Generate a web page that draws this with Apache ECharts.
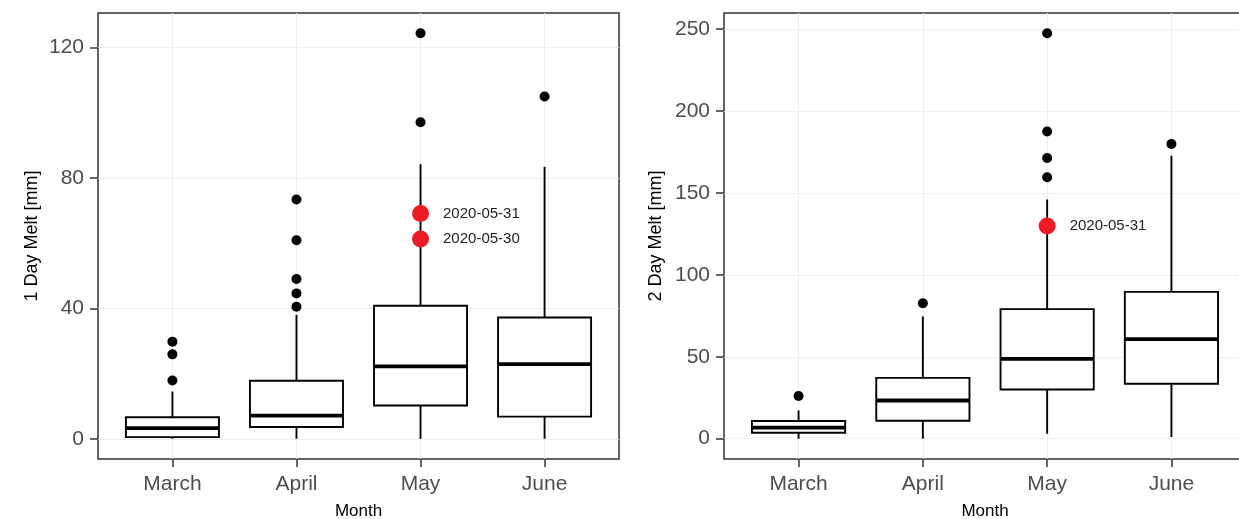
<!DOCTYPE html>
<html>
<head>
<meta charset="utf-8">
<script src="https://cdn.jsdelivr.net/npm/echarts@6/dist/echarts.min.js"></script>
<style>
html,body{margin:0;padding:0;background:#fff;}
#chart{width:1239px;height:519px;}
</style>
</head>
<body>
<div id="chart"></div>
<script>
// ---------- data ----------
const months = ['March', 'April', 'May', 'June'];

// 1 Day Melt [mm] box statistics per month
const melt1Lower  = [0, 0, 0, 0];
const melt1Q1     = [0.5, 3.6, 10.2, 6.8];
const melt1Median = [3.3, 7.1, 22.2, 22.9];
const melt1Q3     = [6.6, 17.8, 40.8, 37.2];
const melt1Upper  = [14.5, 38, 84.2, 83.4];
const melt1Outliers = [[17.9, 25.9, 29.8], [40.5, 44.6, 49, 60.9, 73.4], [97.1, 124.4], [105]];
const melt1HighlightMonth = ['May', 'May'];
const melt1HighlightValue = [69.1, 61.3];
const melt1HighlightDate  = ['2020-05-31', '2020-05-30'];
const melt1Ticks = [0, 40, 80, 120];

// 2 Day Melt [mm] box statistics per month
const melt2Lower  = [0, 0, 3, 1];
const melt2Q1     = [3.65, 10.9, 30, 33.5];
const melt2Median = [6.7, 23.3, 48.7, 60.8];
const melt2Q3     = [10.8, 37.1, 79.1, 89.6];
const melt2Upper  = [17.2, 74.6, 146, 172.7];
const melt2Outliers = [[26], [82.7], [159.6, 171.3, 187.5, 247.4], [179.9]];
const melt2HighlightMonth = ['May'];
const melt2HighlightValue = [129.8];
const melt2HighlightDate  = ['2020-05-31'];
const melt2Ticks = [0, 50, 100, 150, 200, 250];

// ---------- helpers ----------
const FONT = 'Liberation Sans, Arial, Helvetica, sans-serif';
const monthPos = months.map((m, i) => i + 1);

function boxData(lo, q1, med, q3, hi) {
  return months.map((m, i) => [monthPos[i], lo[i], q1[i], med[i], q3[i], hi[i]]);
}
function outlierData(outs) {
  const d = [];
  outs.forEach((arr, i) => arr.forEach(v => d.push([monthPos[i], v])));
  return d;
}
function highlightData(mon, val, dates) {
  return mon.map((m, i) => ({ value: [monthPos[months.indexOf(m)], val[i]], name: dates[i] }));
}

function renderBox(params, api) {
  const x = api.value(0);
  const lo = api.value(1), q1 = api.value(2), med = api.value(3), q3 = api.value(4), hi = api.value(5);
  const w = api.size([0.75, 0])[0];
  const pLo = api.coord([x, lo]), pQ1 = api.coord([x, q1]), pMed = api.coord([x, med]);
  const pQ3 = api.coord([x, q3]), pHi = api.coord([x, hi]);
  const stroke = { stroke: '#000', lineWidth: 1.9 };
  return {
    type: 'group',
    children: [
      { type: 'line', shape: { x1: pHi[0], y1: pHi[1], x2: pQ3[0], y2: pQ3[1] }, style: stroke },
      { type: 'line', shape: { x1: pQ1[0], y1: pQ1[1], x2: pLo[0], y2: pLo[1] }, style: stroke },
      { type: 'rect', shape: { x: pQ3[0] - w / 2, y: pQ3[1], width: w, height: pQ1[1] - pQ3[1] },
        style: { fill: '#fff', stroke: '#000', lineWidth: 1.9 } },
      { type: 'line', shape: { x1: pMed[0] - w / 2, y1: pMed[1], x2: pMed[0] + w / 2, y2: pMed[1] },
        style: { stroke: '#000', lineWidth: 3.8 } }
    ]
  };
}

function xAxisCfg(gi) {
  return {
    type: 'value', gridIndex: gi, min: 0.4, max: 4.6,
    axisLine: { show: false, onZero: false },
    axisTick: { show: true, customValues: monthPos, length: 8, lineStyle: { color: '#333', width: 1.5 } },
    axisLabel: { customValues: monthPos, formatter: v => months[Math.round(v) - 1] || '',
                 fontSize: 21, color: '#4D4D4D', margin: 15, fontFamily: FONT },
    splitLine: { show: true, lineStyle: { color: '#EEEEEE', width: 1.2 } },
    name: 'Month', nameLocation: 'middle', nameGap: 44,
    nameTextStyle: { fontSize: 17, color: '#000', fontFamily: FONT }
  };
}
function yAxisCfg(gi, min, max, ticks, name, gap) {
  return {
    type: 'value', gridIndex: gi, min: min, max: max,
    axisLine: { show: false, onZero: false },
    axisTick: { show: true, customValues: ticks, length: 8, lineStyle: { color: '#333', width: 1.5 } },
    axisLabel: { customValues: ticks, fontSize: 21, color: '#4D4D4D', margin: 14, fontFamily: FONT },
    splitLine: { show: true, lineStyle: { color: '#EEEEEE', width: 1.2 } },
    name: name, nameLocation: 'middle', nameGap: gap,
    nameTextStyle: { fontSize: 18, color: '#000', fontFamily: FONT }
  };
}

const chart = echarts.init(document.getElementById('chart'), null, { renderer: 'canvas' });
const option = {
  animation: false,
  backgroundColor: '#fff',
  grid: [
    { left: 98, top: 13, width: 521, height: 446, show: true, borderColor: '#333', borderWidth: 1.5,
      backgroundColor: 'transparent', outerBoundsMode: 'none', containLabel: false },
    { left: 724, top: 13, width: 522, height: 446, show: true, borderColor: '#333', borderWidth: 1.5,
      backgroundColor: 'transparent', outerBoundsMode: 'none', containLabel: false }
  ],
  xAxis: [xAxisCfg(0), xAxisCfg(1)],
  yAxis: [
    yAxisCfg(0, -6.2, 130.6, melt1Ticks, '1 Day Melt [mm]', 57),
    yAxisCfg(1, -12.4, 259.8, melt2Ticks, '2 Day Melt [mm]', 59)
  ],
  series: [
    { type: 'custom', xAxisIndex: 0, yAxisIndex: 0, renderItem: renderBox, z: 2,
      data: boxData(melt1Lower, melt1Q1, melt1Median, melt1Q3, melt1Upper) },
    { type: 'scatter', xAxisIndex: 0, yAxisIndex: 0, symbolSize: 10, itemStyle: { color: '#000', opacity: 1 }, z: 3,
      data: outlierData(melt1Outliers) },
    { type: 'scatter', xAxisIndex: 0, yAxisIndex: 0, symbolSize: 17, itemStyle: { color: '#ED1C24', opacity: 1 }, z: 4,
      label: { show: true, position: 'right', distance: 14, formatter: p => p.name, fontSize: 15, color: '#222', fontFamily: FONT },
      data: highlightData(melt1HighlightMonth, melt1HighlightValue, melt1HighlightDate) },

    { type: 'custom', xAxisIndex: 1, yAxisIndex: 1, renderItem: renderBox, z: 2,
      data: boxData(melt2Lower, melt2Q1, melt2Median, melt2Q3, melt2Upper) },
    { type: 'scatter', xAxisIndex: 1, yAxisIndex: 1, symbolSize: 10, itemStyle: { color: '#000', opacity: 1 }, z: 3,
      data: outlierData(melt2Outliers) },
    { type: 'scatter', xAxisIndex: 1, yAxisIndex: 1, symbolSize: 17, itemStyle: { color: '#ED1C24', opacity: 1 }, z: 4,
      label: { show: true, position: 'right', distance: 14, formatter: p => p.name, fontSize: 15, color: '#222', fontFamily: FONT },
      data: highlightData(melt2HighlightMonth, melt2HighlightValue, melt2HighlightDate) }
  ]
};
chart.setOption(option);
</script>
</body>
</html>
